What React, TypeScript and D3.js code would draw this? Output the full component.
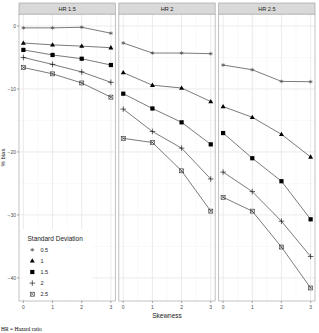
import * as React from 'react';
import { useEffect, useRef } from 'react';
import * as d3 from 'd3';

const skewness = [0, 1, 2, 3];
const hrLabels = ['HR 1.5', 'HR 2', 'HR 2.5'];
const sdLabels = ['0.5', '1', '1.5', '2', '2.5'];

// % bias, one row per standard deviation (0.5, 1, 1.5, 2, 2.5), one column per skewness value
const biasHR15 = [
    [-0.3, -0.3, -0.2, -1.15],
    [-2.7, -3.0, -3.2, -3.45],
    [-3.8, -4.6, -5.2, -6.2],
    [-5.0, -6.1, -7.3, -8.95],
    [-6.6, -7.6, -9.05, -11.3],
];
const biasHR2 = [
    [-2.7, -4.3, -4.3, -4.4],
    [-7.4, -9.4, -9.85, -12.0],
    [-10.75, -13.1, -15.3, -18.8],
    [-13.2, -16.75, -19.4, -24.3],
    [-17.85, -18.5, -23.0, -29.4],
];
const biasHR25 = [
    [-6.2, -6.95, -8.8, -8.85],
    [-12.8, -14.5, -17.2, -20.8],
    [-17.0, -21.0, -24.65, -30.7],
    [-23.2, -26.3, -31.0, -36.6],
    [-27.2, -29.4, -35.1, -41.6],
];
const panels = [biasHR15, biasHR2, biasHR25];
const yTicks = [-40, -30, -20, -10, 0];
const yMinor = [-35, -25, -15, -5];
const xMinor = [0.5, 1.5, 2.5];

const FONT = 'Liberation Sans, Arial, Helvetica, sans-serif';

function drawShape(g: d3.Selection<SVGGElement, unknown, null, undefined>, k: number, cx: number, cy: number) {
    const s = g.append('g').attr('transform', `translate(${cx},${cy})`);
    if (k === 0) {
        // asterisk
        const r = 1.9;
        [0, 60, 120].forEach(a => {
            const t = (a * Math.PI) / 180;
            s.append('line')
                .attr('x1', -r * Math.sin(t)).attr('y1', -r * Math.cos(t))
                .attr('x2', r * Math.sin(t)).attr('y2', r * Math.cos(t))
                .attr('stroke', '#555').attr('stroke-width', 0.6);
        });
        s.append('line').attr('x1', -r).attr('x2', r).attr('y1', 0).attr('y2', 0)
            .attr('stroke', '#555').attr('stroke-width', 0.6);
    } else if (k === 1) {
        s.append('path').attr('d', 'M0,-2.6L2.5,1.7L-2.5,1.7Z').attr('fill', '#000');
    } else if (k === 2) {
        s.append('rect').attr('x', -2.1).attr('y', -2.1).attr('width', 4.2).attr('height', 4.2).attr('fill', '#000');
    } else if (k === 3) {
        s.append('path').attr('d', 'M-2.8,0H2.8M0,-2.8V2.8').attr('stroke', '#000').attr('stroke-width', 0.6);
    } else {
        s.append('rect').attr('x', -2).attr('y', -2).attr('width', 4).attr('height', 4)
            .attr('fill', 'none').attr('stroke', '#333').attr('stroke-width', 0.6);
        s.append('path').attr('d', 'M-2,-2L2,2M2,-2L-2,2').attr('stroke', '#333').attr('stroke-width', 0.6);
    }
}

export default function App() {
    const svgRef = useRef<SVGSVGElement>(null);

    useEffect(() => {
        if (!svgRef.current) return;
        const width = 319;
        const svg = d3.select(svgRef.current);
        svg.selectAll('*').remove();

        const left = 19;
        const right = 315;
        const stripTop = 3;
        const panelTop = 14.2;
        const panelBottom = 301;
        const gap = 3.6;
        const pw = (right - left - 2 * gap) / 3;

        const all = panels.flat(2);
        const lo = d3.min(all) as number;
        const hi = d3.max(all) as number;
        const pad = (hi - lo) * 0.05;
        const y = d3.scaleLinear().domain([lo - pad, hi + pad]).range([panelBottom, panelTop]);

        panels.forEach((rows, p) => {
            const x0 = left + p * (pw + gap);
            const x = d3.scaleLinear().domain([-0.15, 3.15]).range([x0, x0 + pw]);
            const g = svg.append('g');

            // strip
            g.append('rect')
                .attr('x', x0).attr('y', stripTop).attr('width', pw).attr('height', panelTop - stripTop)
                .attr('fill', '#d9d9d9').attr('stroke', '#999').attr('stroke-width', 0.6);
            g.append('text')
                .attr('x', x0 + pw / 2).attr('y', (stripTop + panelTop) / 2 + 2)
                .attr('text-anchor', 'middle').attr('font-size', 5.6).attr('fill', '#1a1a1a')
                .attr('font-family', FONT).text(hrLabels[p]);

            // panel background + grid
            g.append('rect')
                .attr('x', x0).attr('y', panelTop).attr('width', pw).attr('height', panelBottom - panelTop)
                .attr('fill', '#fff');
            yMinor.forEach(v => {
                g.append('line').attr('x1', x0).attr('x2', x0 + pw).attr('y1', y(v)).attr('y2', y(v))
                    .attr('stroke', '#f2f2f2').attr('stroke-width', 0.5);
            });
            xMinor.forEach(v => {
                g.append('line').attr('x1', x(v)).attr('x2', x(v)).attr('y1', panelTop).attr('y2', panelBottom)
                    .attr('stroke', '#f2f2f2').attr('stroke-width', 0.5);
            });
            yTicks.forEach(v => {
                g.append('line').attr('x1', x0).attr('x2', x0 + pw).attr('y1', y(v)).attr('y2', y(v))
                    .attr('stroke', '#e6e6e6').attr('stroke-width', 0.8);
            });
            skewness.forEach(v => {
                g.append('line').attr('x1', x(v)).attr('x2', x(v)).attr('y1', panelTop).attr('y2', panelBottom)
                    .attr('stroke', '#e6e6e6').attr('stroke-width', 0.8);
            });

            // legend box (hides grid) in first panel
            if (p === 0) {
                g.append('rect').attr('x', 22).attr('y', 229).attr('width', 70).attr('height', 70).attr('fill', '#fff');
            }

            // lines + points
            const line = d3.line<number>().x((_, i) => x(skewness[i])).y(d => y(d));
            rows.forEach((vals, k) => {
                g.append('path').datum(vals).attr('d', line)
                    .attr('fill', 'none').attr('stroke', '#222').attr('stroke-width', 0.6);
                vals.forEach((v, i) => drawShape(g as any, k, x(skewness[i]), y(v)));
            });

            // panel border
            g.append('rect')
                .attr('x', x0).attr('y', panelTop).attr('width', pw).attr('height', panelBottom - panelTop)
                .attr('fill', 'none').attr('stroke', '#999').attr('stroke-width', 0.6);

            // x axis
            skewness.forEach(v => {
                g.append('line').attr('x1', x(v)).attr('x2', x(v)).attr('y1', panelBottom).attr('y2', panelBottom + 2)
                    .attr('stroke', '#555').attr('stroke-width', 0.5);
                g.append('text').attr('x', x(v)).attr('y', panelBottom + 8)
                    .attr('text-anchor', 'middle').attr('font-size', 5).attr('fill', '#4d4d4d')
                    .attr('font-family', FONT).text(String(v));
            });
        });

        // y axis
        yTicks.forEach(v => {
            svg.append('line').attr('x1', left - 2).attr('x2', left).attr('y1', y(v)).attr('y2', y(v))
                .attr('stroke', '#555').attr('stroke-width', 0.5);
            svg.append('text').attr('x', left - 3).attr('y', y(v) + 1.8)
                .attr('text-anchor', 'end').attr('font-size', 5).attr('fill', '#4d4d4d')
                .attr('font-family', FONT).text(v < 0 ? `\u2212${-v}` : String(v));
        });

        svg.append('text')
            .attr('transform', `translate(4.5,${(panelTop + panelBottom) / 2}) rotate(-90)`)
            .attr('text-anchor', 'middle').attr('font-size', 6).attr('fill', '#1a1a1a')
            .attr('font-family', FONT).text('% bias');

        svg.append('text')
            .attr('x', (left + right) / 2).attr('y', 317.5)
            .attr('text-anchor', 'middle').attr('font-size', 6.5).attr('fill', '#1a1a1a')
            .attr('font-family', FONT).text('Skewness');

        // legend
        svg.append('text').attr('x', 27.5).attr('y', 240.5)
            .attr('font-size', 6.5).attr('fill', '#1a1a1a').attr('font-family', FONT).text('Standard Deviation');
        sdLabels.forEach((lab, k) => {
            const cy = 249.8 + k * 11.1;
            drawShape(svg as any, k, 32.3, cy);
            svg.append('text').attr('x', 40.5).attr('y', cy + 2)
                .attr('font-size', 5.5).attr('fill', '#1a1a1a').attr('font-family', FONT).text(lab);
        });

        svg.append('text').attr('x', 1).attr('y', 331)
            .attr('font-size', 5.5).attr('fill', '#000').attr('font-family', 'Liberation Serif, Times New Roman, serif')
            .text('HR = Hazard ratio');

        svg.attr('width', width);
    }, []);

    return (
        <div style={{ position: 'absolute', left: 0, top: 0, width: 319, height: 333, background: '#fff' }}>
            <svg ref={svgRef} width={319} height={333}></svg>
        </div>
    );
}
